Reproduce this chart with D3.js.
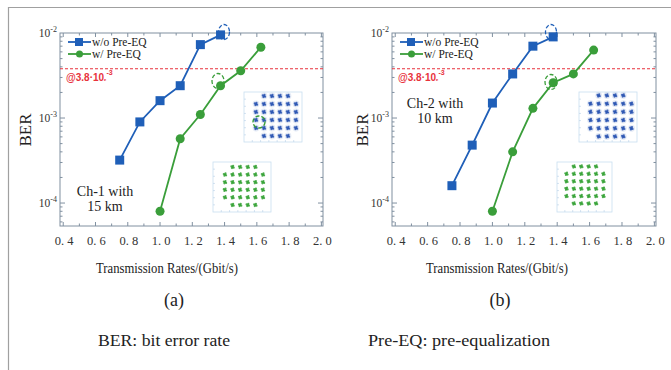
<!DOCTYPE html>
<html><head><meta charset="utf-8">
<script src="https://cdn.jsdelivr.net/npm/d3@7"></script>
<style>body{margin:0;background:#fff}svg{display:block}</style>
</head><body><svg id="c" width="671" height="370"></svg>
<script>
// ---------- data ----------
const xTickValues = [0.4, 0.6, 0.8, 1.0, 1.2, 1.4, 1.6, 1.8, 2.0];
const xTickLabels = ["0. 4","0. 6","0. 8","1. 0","1. 2","1. 4","1. 6","1. 8","2. 0"];
const yTickExponents = [-2, -3, -4];
const seriesNames = ["w/o Pre-EQ", "w/ Pre-EQ"];
const ratesWithout = [0.75, 0.875, 1.0, 1.125, 1.25, 1.375];
const ratesWith = [1.0, 1.125, 1.25, 1.375, 1.5, 1.625];
// Ch-1 with 15 km
const ch1Without = [3.2e-4, 9.0e-4, 1.6e-3, 2.4e-3, 7.3e-3, 9.5e-3];
const ch1With = [8.0e-5, 5.7e-4, 1.1e-3, 2.4e-3, 3.6e-3, 6.8e-3];
// Ch-2 with 10 km
const ch2Without = [1.6e-4, 4.8e-4, 1.5e-3, 3.3e-3, 7.0e-3, 9.0e-3];
const ch2With = [8.0e-5, 4.0e-4, 1.3e-3, 2.6e-3, 3.3e-3, 6.3e-3];
const threshold = 3.8e-3;
const constellationLevels = [-5, -3, -1, 1, 3, 5];
const panelTitles = ["(a)", "(b)"];
const channelLabels = [["Ch-1 with", "15 km"], ["Ch-2 with", "10 km"]];

// ---------- drawing ----------
const svg = d3.select("#c");
const SERIF = "'Liberation Serif','DejaVu Serif',serif";
const BLUE = "#1f5fb8", GREEN = "#3a9e3a", RED = "#e8323c", AXIS = "#8090a0";

// outer frame
svg.append("path").attr("d","M8.5,370 V7.5 H671").attr("fill","none").attr("stroke","#a0a0a0").attr("stroke-width",1.2);

const panels = [
  {x0:60, x1:323, without:ch1Without, with:ch1With, labelX:105, labelY:196,
   blueInset:{bx:244,by:92,bw:58,bh:50,cx:276,cy:116,s:8, ring:[259,122]},
   greenInset:{bx:213,by:162,bw:58,bh:50,cx:244,cy:186,s:7.6},
   blueRing:[224,32], greenRing:[218,81], berX:25, axisTitleX:167, capX:174},
  {x0:392, x1:656, without:ch2Without, with:ch2With, labelX:435, labelY:108,
   blueInset:{bx:579,by:92,bw:58,bh:50,cx:611,cy:116,s:8.2, ring:null},
   greenInset:{bx:557,by:162,bw:55,bh:50,cx:585,cy:185,s:7.4},
   blueRing:[551,32], greenRing:[551,82], berX:362, axisTitleX:497, capX:500}
];
const yTop = 33, yBot = 226;

panels.forEach((p, pi) => {
  const g = svg.append("g");
  const x = d3.scaleLinear().domain([0.38, 2.01]).range([p.x0, p.x1]);
  const y = d3.scaleLog().domain([Math.pow(10,-4.27), 1e-2]).range([yBot, yTop]);

  // insets (constellations)
  function inset(ins, color, noisy) {
    const ig = g.append("g");
    ig.append("rect").attr("x",ins.bx).attr("y",ins.by).attr("width",ins.bw).attr("height",ins.bh)
      .attr("fill","#fff").attr("stroke","#c8def0").attr("stroke-width",0.8);
    for (let i=1;i<7;i++){
      ig.append("line").attr("x1",ins.bx).attr("x2",ins.bx+2).attr("y1",ins.by+i*ins.bh/7).attr("y2",ins.by+i*ins.bh/7).attr("stroke","#b8d0e8").attr("stroke-width",0.6);
      ig.append("line").attr("y1",ins.by+ins.bh).attr("y2",ins.by+ins.bh-2).attr("x1",ins.bx+i*ins.bw/7).attr("x2",ins.bx+i*ins.bw/7).attr("stroke","#b8d0e8").attr("stroke-width",0.6);
    }
    const pts = [];
    constellationLevels.forEach(a => constellationLevels.forEach(b => {
      if (Math.abs(a)===5 && Math.abs(b)===5) return;
      pts.push([ins.cx + a*ins.s/2, ins.cy + b*ins.s/2]);
    }));
    pts.forEach(([px,py]) => {
      if (noisy) {
        ig.append("circle").attr("cx",px).attr("cy",py).attr("r",3.4).attr("fill",color).attr("opacity",0.12);
      }
      [[0,0],[-1.2,-0.6],[1.1,0.7],[0.5,-1.2],[-0.6,1.1]].forEach(([dx,dy]) =>
        ig.append("circle").attr("cx",px+dx).attr("cy",py+dy).attr("r",1.1).attr("fill",color).attr("opacity",0.85));
    });
  }
  inset(p.blueInset, "#2550b0", true);
  inset(p.greenInset, "#30a030", false);
  if (p.blueInset.ring) {
    g.append("circle").attr("cx",p.blueInset.ring[0]).attr("cy",p.blueInset.ring[1]).attr("r",6)
      .attr("fill","none").attr("stroke",GREEN).attr("stroke-width",1.4).attr("stroke-dasharray","4,2");
  }

  // box
  g.append("rect").attr("x",p.x0).attr("y",yTop).attr("width",p.x1-p.x0).attr("height",yBot-yTop)
    .attr("fill","none").attr("stroke",AXIS).attr("stroke-width",1);

  // x ticks (major + minor) bottom & top
  d3.range(0.4, 2.001, 0.1).forEach((v,i) => {
    const len = (i%2===0) ? 4 : 2.5;
    g.append("line").attr("x1",x(v)).attr("x2",x(v)).attr("y1",yBot).attr("y2",yBot-len).attr("stroke",AXIS);
    g.append("line").attr("x1",x(v)).attr("x2",x(v)).attr("y1",yTop).attr("y2",yTop+len).attr("stroke",AXIS);
  });
  xTickValues.forEach((v,i) => {
    g.append("text").attr("x",x(v)+1).attr("y",yBot+19).attr("text-anchor","middle")
      .attr("font-family",SERIF).attr("font-size",12.5).attr("fill","#333").text(xTickLabels[i]);
  });
  // y ticks (log, major + minor) left & right
  for (let e=-5; e<=-3; e++) {
    for (let m=1; m<10; m++) {
      const v = m*Math.pow(10,e);
      if (v < y.domain()[0] || v > y.domain()[1]*1.0001) continue;
      const len = m===1 ? 5 : 2.5;
      g.append("line").attr("x1",p.x0).attr("x2",p.x0+len).attr("y1",y(v)).attr("y2",y(v)).attr("stroke",AXIS);
      g.append("line").attr("x1",p.x1).attr("x2",p.x1-len).attr("y1",y(v)).attr("y2",y(v)).attr("stroke",AXIS);
    }
  }
  yTickExponents.forEach(e => {
    const t = g.append("text").attr("x",p.x0-3).attr("y",y(Math.pow(10,e))+4).attr("text-anchor","end")
      .attr("font-family",SERIF).attr("font-size",11.5).attr("fill","#333");
    t.append("tspan").text("10");
    t.append("tspan").attr("dy",-5).attr("font-size",8).text(String(e));
  });

  // threshold
  g.append("line").attr("x1",p.x0).attr("x2",p.x1).attr("y1",y(threshold)).attr("y2",y(threshold))
    .attr("stroke",RED).attr("stroke-width",1.2).attr("stroke-dasharray","3,2");
  const rt = g.append("text").attr("x",p.x0+6).attr("y",y(threshold)+12).attr("font-family","'Liberation Sans',Arial,sans-serif")
    .attr("font-size",10).attr("font-weight","bold").attr("fill",RED);
  rt.append("tspan").text("@3.8·10");
  rt.append("tspan").attr("font-size",6).text("ₑ");
  rt.append("tspan").attr("font-size",7).attr("dy",-6).text("-3");

  // series lines
  const line = d3.line().x(d=>x(d[0])).y(d=>y(d[1]));
  const dWo = ratesWithout.map((r,i)=>[r,p.without[i]]);
  const dW = ratesWith.map((r,i)=>[r,p.with[i]]);
  g.append("path").datum(dWo).attr("d",line).attr("fill","none").attr("stroke",BLUE).attr("stroke-width",1.8);
  g.append("path").datum(dW).attr("d",line).attr("fill","none").attr("stroke",GREEN).attr("stroke-width",1.8);
  g.selectAll(null).data(dWo).join("rect").attr("x",d=>x(d[0])-4.5).attr("y",d=>y(d[1])-4.5)
    .attr("width",9).attr("height",9).attr("fill",BLUE);
  g.selectAll(null).data(dW).join("circle").attr("cx",d=>x(d[0])).attr("cy",d=>y(d[1])).attr("r",4.5).attr("fill",GREEN);

  // dashed rings
  g.append("ellipse").attr("cx",p.blueRing[0]).attr("cy",p.blueRing[1]).attr("rx",5.5).attr("ry",7.5)
    .attr("fill","none").attr("stroke",BLUE).attr("stroke-width",1.3).attr("stroke-dasharray","4,2");
  g.append("ellipse").attr("cx",p.greenRing[0]).attr("cy",p.greenRing[1]).attr("rx",6).attr("ry",7.5)
    .attr("fill","none").attr("stroke",GREEN).attr("stroke-width",1.3).attr("stroke-dasharray","4,2");

  // legend
  const lx = p.x0 + 8;
  [[BLUE,"rect"],[GREEN,"circle"]].forEach(([c,sh],i) => {
    const ly = 42 + i*12;
    g.append("line").attr("x1",lx).attr("x2",lx+23).attr("y1",ly).attr("y2",ly).attr("stroke",c).attr("stroke-width",1.8);
    if (sh==="rect") g.append("rect").attr("x",lx+7).attr("y",ly-4).attr("width",8).attr("height",8).attr("fill",c);
    else g.append("circle").attr("cx",lx+11.5).attr("cy",ly).attr("r",3.5).attr("fill",c);
    g.append("text").attr("x",lx+24).attr("y",ly+4).attr("font-family",SERIF).attr("font-size",11.5)
      .attr("fill","#222").text(seriesNames[i]);
  });

  // channel label
  channelLabels[pi].forEach((s,i) => {
    g.append("text").attr("x",p.labelX).attr("y",p.labelY+i*15).attr("text-anchor","middle")
      .attr("font-family",SERIF).attr("font-size",14).attr("fill","#222").text(s);
  });

  // axis titles
  g.append("text").attr("transform",`translate(${p.berX+6},130) rotate(-90)`).attr("text-anchor","middle")
    .attr("font-family",SERIF).attr("font-size",17).attr("fill","#222").text("BER");
  g.append("text").attr("x",p.axisTitleX).attr("y",273).attr("text-anchor","middle")
    .attr("font-family",SERIF).attr("font-size",15).attr("textLength",142).attr("lengthAdjust","spacingAndGlyphs")
    .attr("fill","#222").text("Transmission Rates/(Gbit/s)");
  g.append("text").attr("x",p.capX).attr("y",306).attr("text-anchor","middle")
    .attr("font-family",SERIF).attr("font-size",18).attr("fill","#222").text(panelTitles[pi]);
});

svg.append("text").attr("x",98).attr("y",346).attr("font-family",SERIF).attr("font-size",16)
  .attr("textLength",132).attr("lengthAdjust","spacingAndGlyphs").attr("fill","#222").text("BER: bit error rate");
svg.append("text").attr("x",368).attr("y",346).attr("font-family",SERIF).attr("font-size",16)
  .attr("textLength",182).attr("lengthAdjust","spacingAndGlyphs").attr("fill","#222").text("Pre-EQ: pre-equalization");
</script></body></html>
